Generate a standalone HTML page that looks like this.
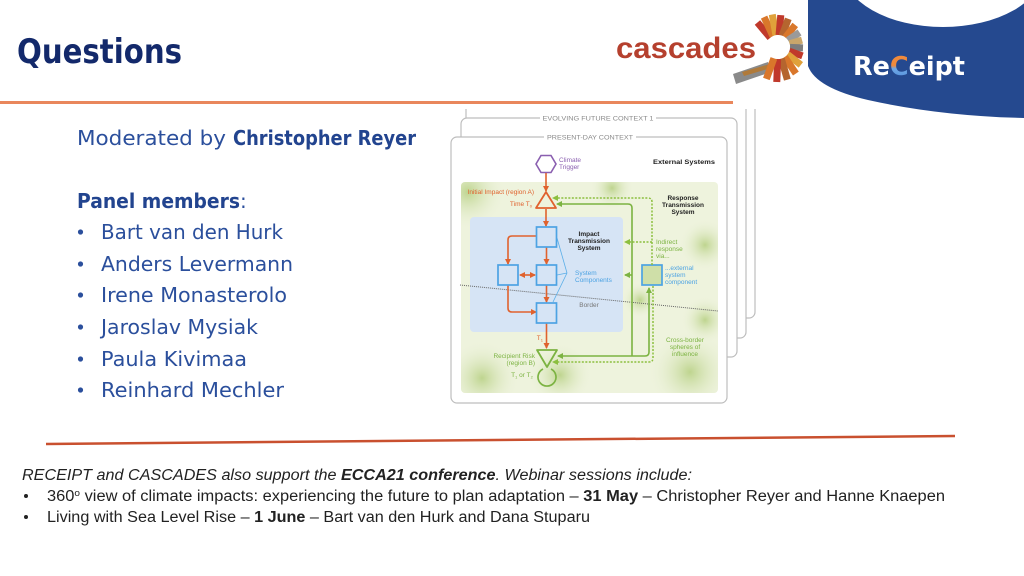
<!DOCTYPE html>
<html><head><meta charset="utf-8"><style>
html,body{margin:0;padding:0;background:#fff;}
svg{display:block;}
</style></head><body>
<svg width="1024" height="576" viewBox="0 0 1024 576" xmlns="http://www.w3.org/2000/svg">
<defs>
<marker id="ao" markerWidth="6" markerHeight="6" refX="5" refY="3" orient="auto" markerUnits="userSpaceOnUse"><path d="M0,0 L6,3 L0,6 Z" fill="#e0622e"/></marker>
<marker id="aos" markerWidth="6" markerHeight="6" refX="1" refY="3" orient="auto" markerUnits="userSpaceOnUse"><path d="M6,0 L0,3 L6,6 Z" fill="#e0622e"/></marker>
<marker id="ag" markerWidth="6" markerHeight="6" refX="5" refY="3" orient="auto" markerUnits="userSpaceOnUse"><path d="M0,0 L6,3 L0,6 Z" fill="#7cb342"/></marker>
<marker id="agd" markerWidth="6" markerHeight="6" refX="5" refY="3" orient="auto" markerUnits="userSpaceOnUse"><path d="M0,0 L6,3 L0,6 Z" fill="#8cbf3f"/></marker>
<radialGradient id="blot"><stop offset="0" stop-color="#b9d186" stop-opacity="0.9"/><stop offset="1" stop-color="#eef3dd" stop-opacity="0"/></radialGradient>
<linearGradient id="cg" x1="0" y1="0" x2="0" y2="1"><stop offset="0" stop-color="#f08a3c"/><stop offset="0.45" stop-color="#f08a3c"/><stop offset="0.55" stop-color="#6fa8e6"/><stop offset="1" stop-color="#4a86d6"/></linearGradient>
<clipPath id="dclip"><rect x="440" y="109" width="330" height="300"/></clipPath>
<clipPath id="gclip"><rect x="461" y="182" width="257" height="211" rx="4"/></clipPath>
</defs>

<!-- Top-right blue shape -->
<path d="M808,0 L808,66 Q816,88 868,100 Q940,116 1024,118 L1024,0 Z" fill="#25498f"/>
<ellipse cx="943" cy="-30" rx="100" ry="57" fill="#fff"/>
<text x="853" y="75" font-family="DejaVu Sans, sans-serif" font-weight="bold" font-size="26" textLength="112" lengthAdjust="spacingAndGlyphs" fill="#fff">Re<tspan fill="url(#cg)">C</tspan>eipt</text>

<!-- cascades logo -->
<text x="616" y="58" font-family="Liberation Sans, sans-serif" font-weight="bold" font-size="30" textLength="140" lengthAdjust="spacingAndGlyphs" fill="#b5402e">cascades</text>
<g>
<polygon points="733,74 768,62 771,72 736,84" fill="#8a8a8a"/>
<polygon points="742,72 770,64 771,68 744,76" fill="#b07a3a"/>
<g transform="translate(778,47)">
<rect x="-3.5" y="-32" width="7" height="20" fill="#c0392b" transform="rotate(-40)"/>
<rect x="-3.5" y="-33" width="7" height="21" fill="#d9772b" transform="rotate(-25)"/>
<rect x="-3.5" y="-33" width="7" height="21" fill="#e0a13a" transform="rotate(-10)"/>
<rect x="-3.5" y="-32" width="7" height="20" fill="#c0392b" transform="rotate(5)"/>
<rect x="-3.5" y="-30" width="7" height="18" fill="#b5652f" transform="rotate(20)"/>
<rect x="-3.5" y="-28" width="7" height="16" fill="#d9772b" transform="rotate(38)"/>
<rect x="-3.5" y="-26" width="7" height="14" fill="#9a9a9a" transform="rotate(56)"/>
<rect x="-3.5" y="-25" width="7" height="13" fill="#c9a66b" transform="rotate(74)"/>
<rect x="-3.5" y="-25" width="7" height="13" fill="#7d7d7d" transform="rotate(92)"/>
<rect x="-3.5" y="-26" width="7" height="14" fill="#c0392b" transform="rotate(110)"/>
<rect x="-3.5" y="-29" width="7" height="17" fill="#e0a13a" transform="rotate(128)"/>
<rect x="-3.5" y="-32" width="7" height="20" fill="#d9772b" transform="rotate(146)"/>
<rect x="-3.5" y="-34" width="7" height="22" fill="#b5652f" transform="rotate(164)"/>
<rect x="-3.5" y="-35" width="7" height="23" fill="#c0392b" transform="rotate(182)"/>
<rect x="-3.5" y="-34" width="7" height="22" fill="#d9772b" transform="rotate(200)"/>
</g>
</g>

<!-- Title -->
<text x="17" y="63" font-family="DejaVu Sans, sans-serif" font-weight="bold" font-size="34" textLength="165" lengthAdjust="spacingAndGlyphs" fill="#13296b">Questions</text>
<rect x="0" y="101" width="733" height="3" fill="#e9875c"/>

<!-- Moderator & panel -->
<g font-family="DejaVu Sans, sans-serif" font-size="20" fill="#2b4f9c">
<text x="77" y="145" textLength="149" lengthAdjust="spacingAndGlyphs">Moderated by</text>
<text x="233" y="145" font-weight="bold" textLength="183" lengthAdjust="spacingAndGlyphs" fill="#22448f">Christopher Reyer</text>
<text x="77" y="208" font-weight="bold" textLength="163" lengthAdjust="spacingAndGlyphs" fill="#22448f">Panel members</text>
<text x="240" y="208">:</text>
<text x="101" y="239" textLength="182" lengthAdjust="spacingAndGlyphs">Bart van den Hurk</text>
<text x="101" y="271" textLength="192" lengthAdjust="spacingAndGlyphs">Anders Levermann</text>
<text x="101" y="302" textLength="186" lengthAdjust="spacingAndGlyphs">Irene Monasterolo</text>
<text x="101" y="334" textLength="157" lengthAdjust="spacingAndGlyphs">Jaroslav Mysiak</text>
<text x="101" y="366" textLength="146" lengthAdjust="spacingAndGlyphs">Paula Kivimaa</text>
<text x="101" y="397" textLength="183" lengthAdjust="spacingAndGlyphs">Reinhard Mechler</text>
</g>
<g fill="#2b4f9c">
<circle cx="80.5" cy="232" r="2.6"/><circle cx="80.5" cy="264" r="2.6"/><circle cx="80.5" cy="295" r="2.6"/>
<circle cx="80.5" cy="327" r="2.6"/><circle cx="80.5" cy="359" r="2.6"/><circle cx="80.5" cy="390" r="2.6"/>
</g>

<!-- Diagram -->
<g clip-path="url(#dclip)">
<rect x="471" y="88" width="284" height="230" rx="6" fill="#fff" stroke="#bdbdbd" stroke-width="1.2"/>
<rect x="466" y="94" width="280" height="244" rx="6" fill="#fff" stroke="#bdbdbd" stroke-width="1.2"/>
<rect x="461" y="118" width="276" height="239" rx="6" fill="#fff" stroke="#bdbdbd" stroke-width="1.2"/>
<rect x="540" y="114" width="116" height="8" fill="#fff"/>
<text x="598" y="120.5" text-anchor="middle" font-family="Liberation Sans, sans-serif" font-size="6.5" fill="#8a8a8a" textLength="111" lengthAdjust="spacingAndGlyphs">EVOLVING FUTURE CONTEXT 1</text>
<rect x="451" y="137" width="276" height="266" rx="6" fill="#fff" stroke="#bdbdbd" stroke-width="1.2"/>
<rect x="544" y="133" width="92" height="8" fill="#fff"/>
<text x="590" y="139.5" text-anchor="middle" font-family="Liberation Sans, sans-serif" font-size="6.5" fill="#8a8a8a" textLength="86" lengthAdjust="spacingAndGlyphs">PRESENT-DAY CONTEXT</text>
</g>

<!-- green area -->
<rect x="461" y="182" width="257" height="211" rx="4" fill="#eef3dd"/>
<g clip-path="url(#gclip)">
<circle cx="468" cy="192" r="38" fill="url(#blot)"/>
<circle cx="612" cy="188" r="22" fill="url(#blot)"/>
<circle cx="705" cy="245" r="26" fill="url(#blot)"/>
<circle cx="482" cy="378" r="38" fill="url(#blot)"/>
<circle cx="560" cy="375" r="32" fill="url(#blot)"/>
<circle cx="690" cy="372" r="42" fill="url(#blot)"/>
<circle cx="705" cy="320" r="24" fill="url(#blot)"/>
<circle cx="640" cy="300" r="18" fill="url(#blot)"/>
</g>
<rect x="470" y="217" width="153" height="115" rx="4" fill="#d6e4f5"/>

<!-- border dotted line -->
<line x1="460" y1="285" x2="718" y2="311" stroke="#666" stroke-width="1" stroke-dasharray="1,1"/>

<g font-family="Liberation Sans, sans-serif" font-size="6.5">
<polygon points="536,164 541,155.5 551,155.5 556,164 551,172.5 541,172.5" fill="#fff" stroke="#8a5fb0" stroke-width="1.6"/>
<text x="559" y="162" fill="#8a5fb0">Climate</text>
<text x="559" y="169" fill="#8a5fb0">Trigger</text>
<text x="653" y="164" font-weight="bold" fill="#222" textLength="62" lengthAdjust="spacingAndGlyphs">External Systems</text>
<text x="683" y="200" text-anchor="middle" font-weight="bold" fill="#222">Response</text>
<text x="683" y="207" text-anchor="middle" font-weight="bold" fill="#222">Transmission</text>
<text x="683" y="214" text-anchor="middle" font-weight="bold" fill="#222">System</text>
<text x="589" y="236" text-anchor="middle" font-weight="bold" fill="#222">Impact</text>
<text x="589" y="243" text-anchor="middle" font-weight="bold" fill="#222">Transmission</text>
<text x="589" y="250" text-anchor="middle" font-weight="bold" fill="#222">System</text>
<text x="534" y="194" text-anchor="end" fill="#e0622e">Initial Impact (region A)</text>
<text x="532" y="206" text-anchor="end" fill="#e0622e">Time T<tspan font-size="4" dy="1.5">0</tspan></text>
<text x="575" y="275" fill="#4da3e3">System</text>
<text x="575" y="282" fill="#4da3e3">Components</text>
<text x="589" y="307" text-anchor="middle" fill="#777">Border</text>
<text x="656" y="244" fill="#7cb342">Indirect</text>
<text x="656" y="251" fill="#7cb342">response</text>
<text x="656" y="258" fill="#7cb342">via...</text>
<text x="665" y="270" fill="#4da3e3">...external</text>
<text x="665" y="277" fill="#4da3e3">system</text>
<text x="665" y="284" fill="#4da3e3">component</text>
<text x="685" y="342" text-anchor="middle" fill="#7cb342">Cross-border</text>
<text x="685" y="349" text-anchor="middle" fill="#7cb342">spheres of</text>
<text x="685" y="356" text-anchor="middle" fill="#7cb342">influence</text>
<text x="543" y="340" text-anchor="end" fill="#e0622e">T<tspan font-size="4" dy="1.5">1</tspan></text>
<text x="535" y="358" text-anchor="end" fill="#7cb342">Recipient Risk</text>
<text x="535" y="365" text-anchor="end" fill="#7cb342">(region B)</text>
<text x="522" y="377" text-anchor="middle" fill="#7cb342">T<tspan font-size="4" dy="1.5">1</tspan><tspan dy="-1.5"> or T</tspan><tspan font-size="4" dy="1.5">2</tspan></text>
</g>

<!-- orange arrows -->
<g stroke="#e0622e" stroke-width="1.6" fill="none">
<line x1="546" y1="173" x2="546" y2="191" marker-end="url(#ao)"/>
<line x1="546" y1="209" x2="546" y2="226" marker-end="url(#ao)"/>
<line x1="546.5" y1="247" x2="546.5" y2="264" marker-end="url(#ao)"/>
<line x1="546.5" y1="285" x2="546.5" y2="302" marker-end="url(#ao)"/>
<line x1="546.5" y1="323" x2="546.5" y2="348" marker-end="url(#ao)"/>
<path d="M536,236 L512,236 Q508,236 508,240 L508,264" marker-end="url(#ao)"/>
<line x1="520" y1="275" x2="535" y2="275" marker-end="url(#ao)" marker-start="url(#aos)"/>
<path d="M508,285 L508,308 Q508,312 512,312 L536,312" marker-end="url(#ao)"/>
</g>
<polygon points="546,192 556,208 536,208" fill="none" stroke="#e0622e" stroke-width="1.8" stroke-linejoin="round"/>

<!-- blue squares and connectors -->
<g stroke="#5aaee8" stroke-width="0.8">
<line x1="567" y1="273" x2="557" y2="238"/>
<line x1="567" y1="273" x2="557" y2="275"/>
<line x1="567" y1="273" x2="553" y2="302"/>
</g>
<g fill="#d6e4f5" stroke="#4da3e3" stroke-width="1.7">
<rect x="536.5" y="227" width="20" height="20"/>
<rect x="498" y="265" width="20" height="20"/>
<rect x="536.5" y="265" width="20" height="20"/>
<rect x="536.5" y="303" width="20" height="20"/>
<rect x="642" y="265" width="20" height="20" fill="#cfdfa8"/>
</g>

<!-- green solid -->
<g stroke="#7cb342" stroke-width="1.6" fill="none">
<path d="M632,356 L632,208 Q632,204 628,204 L557,204" marker-end="url(#ag)"/>
<line x1="632" y1="275" x2="625" y2="275" marker-end="url(#ag)"/>
<path d="M632,356 L645,356 Q649,356 649,352 L649,288" marker-end="url(#ag)"/>
<line x1="632" y1="356" x2="558" y2="356" marker-end="url(#ag)"/>
</g>
<!-- green dashed -->
<g stroke="#8cbf3f" stroke-width="1.5" fill="none" stroke-dasharray="2,1.5">
<path d="M652,265 L652,202 Q652,198 648,198 L553,198" marker-end="url(#agd)"/>
<line x1="652" y1="242" x2="625" y2="242" marker-end="url(#agd)"/>
<path d="M653,286 L653,358 Q653,362 649,362 L553,362" marker-end="url(#agd)"/>
</g>
<polygon points="537,350 557,350 547,367" fill="none" stroke="#7cb342" stroke-width="1.8" stroke-linejoin="round"/>
<path d="M551,369 A9,9 0 1 1 543,369" fill="none" stroke="#7cb342" stroke-width="1.7"/>

<!-- bottom divider -->
<line x1="46" y1="444" x2="955" y2="436" stroke="#c9502f" stroke-width="2.5"/>

<!-- bottom text -->
<g font-family="Liberation Sans, sans-serif" font-size="15.5" fill="#222">
<text x="22" y="480" font-style="italic" textLength="670" lengthAdjust="spacingAndGlyphs">RECEIPT and CASCADES also support the <tspan font-weight="bold">ECCA21 conference</tspan>. Webinar sessions include:</text>
<circle cx="26" cy="496" r="2"/>
<text x="47" y="501" textLength="898" lengthAdjust="spacingAndGlyphs">360<tspan font-size="9.5" dy="-5">o</tspan><tspan dy="5"> view of climate impacts: experiencing the future to plan adaptation – </tspan><tspan font-weight="bold">31 May</tspan> – Christopher Reyer and Hanne Knaepen</text>
<circle cx="26" cy="517" r="2"/>
<text x="47" y="522" textLength="543" lengthAdjust="spacingAndGlyphs">Living with Sea Level Rise – <tspan font-weight="bold">1 June</tspan> – Bart van den Hurk and Dana Stuparu</text>
</g>
</svg>
</body></html>
